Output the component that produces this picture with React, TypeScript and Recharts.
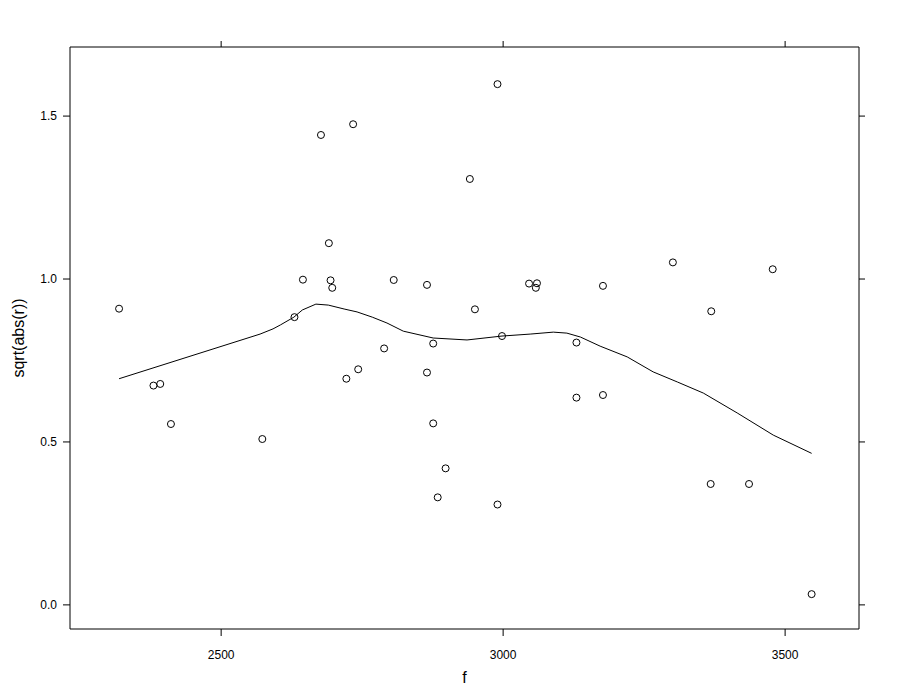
import React from 'react';
import { ComposedChart, Scatter, XAxis, YAxis } from 'recharts';

// observed points: fitted value f vs sqrt(abs(residual))
const fValues = [
  2319, 2380, 2392, 2411, 2573, 2630, 2645, 2677, 2691, 2694,
  2697, 2722, 2734, 2743, 2789, 2806, 2865, 2865, 2876, 2876,
  2884, 2898, 2941, 2950, 2990, 2990, 2998, 3046, 3060, 3058,
  3130, 3130, 3177, 3177, 3301, 3369, 3368, 3436, 3478, 3547
];
const rootAbsResid = [
  0.909, 0.673, 0.678, 0.555, 0.509, 0.883, 0.998, 1.442, 1.110, 0.996,
  0.973, 0.694, 1.475, 0.723, 0.787, 0.997, 0.982, 0.713, 0.802, 0.557,
  0.330, 0.419, 1.307, 0.907, 1.598, 0.308, 0.825, 0.986, 0.987, 0.973,
  0.805, 0.636, 0.979, 0.644, 1.051, 0.901, 0.371, 0.371, 1.030, 0.033
];

// loess smooth
const smoothF = [
  2319, 2569, 2592, 2605, 2629, 2644, 2668, 2690, 2718, 2741,
  2768, 2794, 2823, 2876, 2936, 2998, 3048, 3089, 3113, 3137,
  3172, 3220, 3266, 3309, 3355, 3415, 3479, 3547
];
const smoothR = [
  0.694, 0.831, 0.847, 0.859, 0.883, 0.905, 0.923, 0.920, 0.908, 0.899,
  0.883, 0.865, 0.840, 0.819, 0.813, 0.825, 0.831, 0.837, 0.834, 0.822,
  0.794, 0.761, 0.715, 0.684, 0.650, 0.589, 0.521, 0.465
];

const xTicks = [2500, 3000, 3500];
const yTicks = [0, 0.5, 1, 1.5];
const xDomain = [2232, 3631];
const yDomain = [-0.074, 1.712];

const points = fValues.map((f, i) => ({ f, r: rootAbsResid[i] }));
const smooth = smoothF.map((f, i) => ({ f, r: smoothR[i] }));

const OpenCircle = (props: any) => (
  <circle cx={props.cx} cy={props.cy} r={3.5} fill="none" stroke="#000" strokeWidth={1} />
);

const NoTick = () => <g />;

export default function App() {
  return (
    <div style={{ position: 'absolute', left: 0, top: 0, fontFamily: '"Liberation Sans", Arial, sans-serif' }}>
      <ComposedChart width={900} height={700} margin={{ top: 37, right: 31, bottom: 11, left: 8 }}>
        <XAxis
          xAxisId="bottom"
          type="number"
          dataKey="f"
          domain={xDomain}
          ticks={xTicks}
          allowDataOverflow
          height={60}
          stroke="#000"
          tickSize={7}
          tickMargin={14}
          tick={{ fill: '#000', fontSize: 12 }}
          label={{
            content: (p: any) => (
              <text
                x={p.viewBox.x + p.viewBox.width / 2}
                y={p.viewBox.y + 48}
                textAnchor="middle"
                dominantBaseline="central"
                fontSize={16}
                fill="#000"
              >
                f
              </text>
            )
          }}
        />
        <XAxis
          xAxisId="top"
          orientation="top"
          type="number"
          dataKey="f"
          domain={xDomain}
          ticks={xTicks}
          allowDataOverflow
          height={10}
          stroke="#000"
          tickSize={6}
          tick={NoTick}
        />
        <YAxis
          yAxisId="left"
          type="number"
          dataKey="r"
          domain={yDomain}
          ticks={yTicks}
          allowDataOverflow
          width={62}
          stroke="#000"
          tickSize={7}
          tickMargin={6}
          tick={{ fill: '#000', fontSize: 12 }}
          tickFormatter={(v: number) => v.toFixed(1)}
          label={{
            content: (p: any) => {
              const cx = p.viewBox.x + 10;
              const cy = p.viewBox.y + p.viewBox.height / 2;
              return (
                <text
                  x={cx}
                  y={cy}
                  transform={`rotate(-90 ${cx} ${cy})`}
                  textAnchor="middle"
                  dominantBaseline="central"
                  fontSize={16}
                  fill="#000"
                >
                  sqrt(abs(r))
                </text>
              );
            }
          }}
        />
        <YAxis
          yAxisId="right"
          orientation="right"
          type="number"
          dataKey="r"
          domain={yDomain}
          ticks={yTicks}
          allowDataOverflow
          width={10}
          stroke="#000"
          tickSize={6}
          tick={NoTick}
        />
        <Scatter
          xAxisId="bottom"
          yAxisId="left"
          data={points}
          dataKey="r"
          shape={OpenCircle}
          isAnimationActive={false}
        />
        <Scatter
          xAxisId="bottom"
          yAxisId="left"
          data={smooth}
          dataKey="r"
          line={{ stroke: '#000', strokeWidth: 1 }}
          lineType="joint"
          shape={NoTick}
          isAnimationActive={false}
        />
      </ComposedChart>
    </div>
  );
}
